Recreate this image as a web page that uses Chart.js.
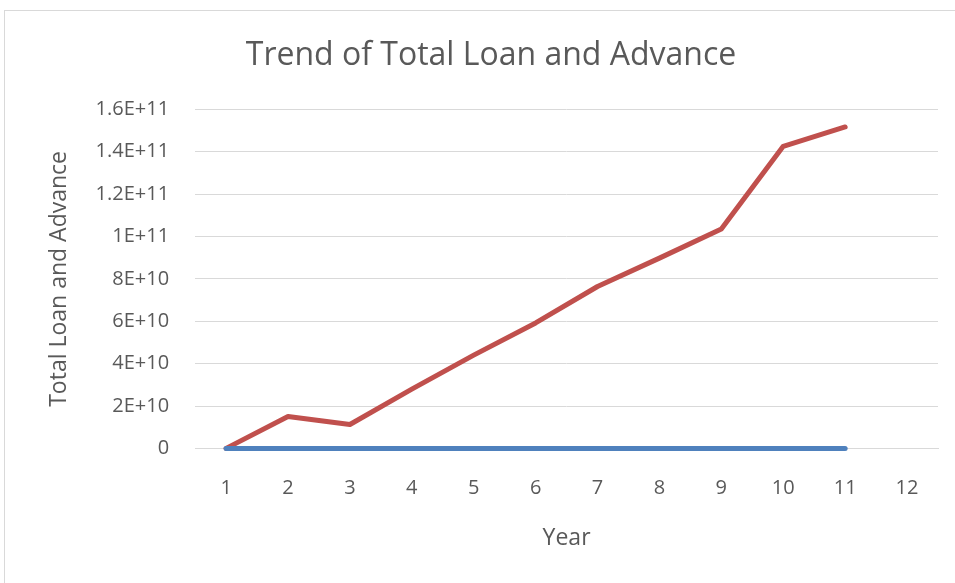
<!DOCTYPE html>
<html>
<head>
<meta charset="utf-8">
<script src="https://cdn.jsdelivr.net/npm/chart.js@4.4.1/dist/chart.umd.min.js"></script>
<style>
  html, body { margin: 0; padding: 0; background: #fff; overflow: hidden; }
  #frame {
    position: absolute; left: 4px; top: 10px;
    width: 1000px; height: 1000px;
    border: 1px solid #d9d9d9;
  }
  #wrap { position: absolute; left: 0; top: 0; width: 955px; height: 583px; }
</style>
</head>
<body>
<div id="frame"></div>
<div id="wrap"><canvas id="loanChart" width="955" height="583"></canvas></div>
<script>
// x categories shown on the axis (12 slots, data fills 11)
const years = ["1", "2", "3", "4", "5", "6", "7", "8", "9", "10", "11", "12"];
// the year column got plotted too, it sits flat on zero at this scale
const yearSeries = [1, 2, 3, 4, 5, 6, 7, 8, 9, 10, 11];
const totalLoanAdvance = [0, 1.51e10, 1.13e10, 2.8e10, 4.4e10, 5.92e10, 7.64e10, 8.98e10, 1.035e11, 1.426e11, 1.517e11];
const yTicks = [0, 2e10, 4e10, 6e10, 8e10, 1e11, 1.2e11, 1.4e11, 1.6e11];

const textColor = "#595959";
const fontFamily = "'Open Sans', sans-serif";

// Excel style scientific labels: 1.6E+11, 1E+11, 0
function sciLabel(v) {
  if (v === 0) return "0";
  const exp = Math.floor(Math.log10(v) + 1e-9);
  const mant = Math.round((v / Math.pow(10, exp)) * 10) / 10;
  return mant + "E+" + exp;
}

const ctx = document.getElementById("loanChart");
new Chart(ctx, {
  type: "line",
  data: {
    labels: years,
    datasets: [
      {
        label: "Year",
        data: yearSeries,
        borderColor: "#4F81BD",
        borderWidth: 5,
        pointRadius: 0,
        tension: 0,
        clip: false,
        borderCapStyle: "round",
        borderJoinStyle: "round",
      },
      {
        label: "Total Loan and Advance",
        data: totalLoanAdvance,
        borderColor: "#C0504D",
        borderWidth: 5,
        pointRadius: 0,
        tension: 0,
        clip: false,
        borderCapStyle: "round",
        borderJoinStyle: "round",
      },
    ],
  },
  options: {
    responsive: false,
    animation: false,
    layout: { padding: { left: 44, right: 17, top: 0, bottom: 31 } },
    plugins: {
      legend: { display: false },
      tooltip: { enabled: false },
      title: {
        display: true,
        text: "Trend of Total Loan and Advance",
        color: textColor,
        font: { family: fontFamily, size: 32, weight: "normal" },
        padding: { top: 37, bottom: 34 },
      },
    },
    scales: {
      x: {
        offset: true,
        grid: { display: false },
        border: { display: true, color: "#d9d9d9", width: 1 },
        ticks: {
          color: textColor,
          font: { family: fontFamily, size: 20 },
          padding: 20,
          maxRotation: 0,
        },
        title: {
          display: true,
          text: "Year",
          color: textColor,
          font: { family: fontFamily, size: 23 },
          padding: { top: 4, bottom: 0 },
        },
      },
      y: {
        min: 0,
        max: 1.6e11,
        afterBuildTicks: (axis) => {
          axis.ticks = yTicks.map((v) => ({ value: v }));
        },
        grid: { color: "#d9d9d9", lineWidth: 1, drawTicks: true, tickLength: 8, tickColor: "rgba(0,0,0,0)" },
        border: { display: false },
        ticks: {
          color: textColor,
          font: { family: fontFamily, size: 20 },
          padding: 18,
          callback: (v) => sciLabel(v),
        },
        title: {
          display: true,
          text: "Total Loan and Advance",
          color: textColor,
          font: { family: fontFamily, size: 23 },
          padding: { top: 2, bottom: 4 },
        },
      },
    },
  },
});
</script>
</body>
</html>
